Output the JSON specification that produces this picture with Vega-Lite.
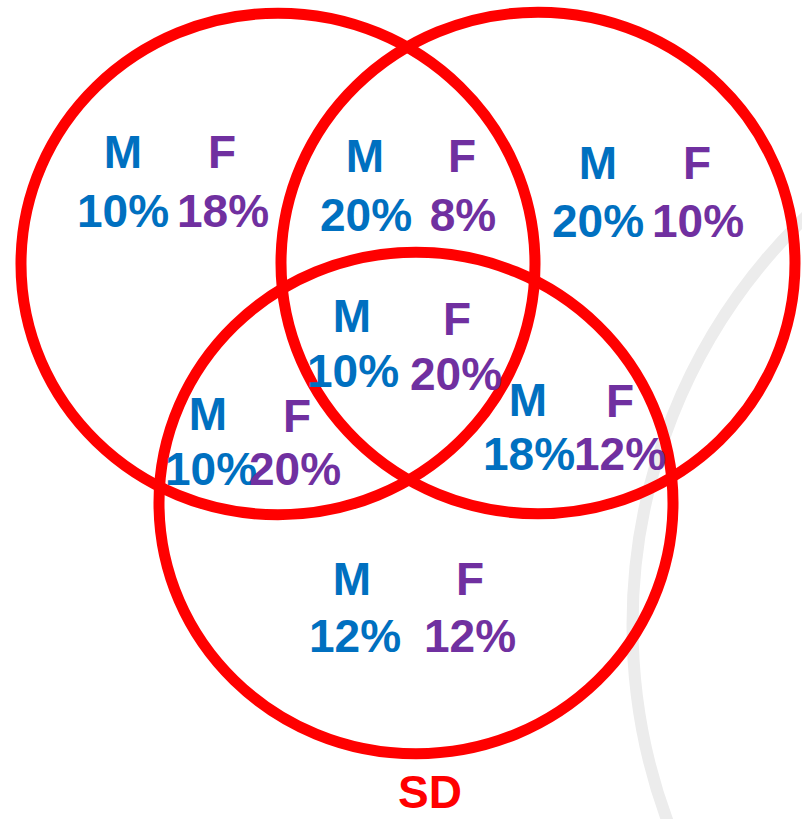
{
  "$schema": "https://vega.github.io/schema/vega-lite/v6.json",
  "width": 802,
  "height": 819,
  "padding": 0,
  "autosize": {"type": "none"},
  "background": "white",
  "config": {"view": {"stroke": null}},
  "encoding": {
    "x": {"field": "x", "type": "quantitative", "scale": {"domain": [0, 802], "nice": false, "zero": false}, "axis": null},
    "y": {"field": "y", "type": "quantitative", "scale": {"domain": [0, 819], "nice": false, "zero": false, "reverse": true}, "axis": null}
  },
  "layer": [
    {
      "data": {"values": [{"name": "watermark", "x": 1200, "y": 625}]},
      "mark": {"type": "point", "shape": "circle", "size": 1288225, "filled": false, "stroke": "#ececec", "strokeWidth": 12, "opacity": 1}
    },
    {
      "data": {"values": [
        {"set": "A", "x": 278, "y": 264},
        {"set": "B", "x": 538, "y": 263},
        {"set": "SD", "x": 416, "y": 503}
      ]},
      "mark": {"type": "point", "shape": "M1,0C1,0.5389 0.5523,0.9757 0,0.9757C-0.5523,0.9757 -1,0.5389 -1,0C-1,-0.5389 -0.5523,-0.9757 0,-0.9757C0.5523,-0.9757 1,-0.5389 1,0Z", "size": 264196, "filled": false, "stroke": "#ff0000", "strokeWidth": 11, "opacity": 1}
    },
    {
      "data": {"values": [
        {"region": "A", "group": "M", "label": "M", "x": 123, "y": 168},
        {"region": "A", "group": "F", "label": "F", "x": 222, "y": 168},
        {"region": "A", "group": "M", "label": "10%", "x": 123, "y": 227},
        {"region": "A", "group": "F", "label": "18%", "x": 223, "y": 227},
        {"region": "AB", "group": "M", "label": "M", "x": 365, "y": 172},
        {"region": "AB", "group": "F", "label": "F", "x": 462, "y": 172},
        {"region": "AB", "group": "M", "label": "20%", "x": 366, "y": 231},
        {"region": "AB", "group": "F", "label": "8%", "x": 463, "y": 231},
        {"region": "B", "group": "M", "label": "M", "x": 598, "y": 179},
        {"region": "B", "group": "F", "label": "F", "x": 697, "y": 179},
        {"region": "B", "group": "M", "label": "20%", "x": 598, "y": 237},
        {"region": "B", "group": "F", "label": "10%", "x": 698, "y": 237},
        {"region": "ABSD", "group": "M", "label": "M", "x": 352, "y": 332},
        {"region": "ABSD", "group": "F", "label": "F", "x": 457, "y": 335},
        {"region": "ABSD", "group": "M", "label": "10%", "x": 353, "y": 387},
        {"region": "ABSD", "group": "F", "label": "20%", "x": 456, "y": 390},
        {"region": "ASD", "group": "M", "label": "M", "x": 208, "y": 430},
        {"region": "ASD", "group": "F", "label": "F", "x": 297, "y": 432},
        {"region": "ASD", "group": "M", "label": "10%", "x": 211, "y": 485},
        {"region": "ASD", "group": "F", "label": "20%", "x": 295, "y": 485},
        {"region": "BSD", "group": "M", "label": "M", "x": 528, "y": 416},
        {"region": "BSD", "group": "F", "label": "F", "x": 620, "y": 417},
        {"region": "BSD", "group": "M", "label": "18%", "x": 529, "y": 470},
        {"region": "BSD", "group": "F", "label": "12%", "x": 620, "y": 470},
        {"region": "SD", "group": "M", "label": "M", "x": 352, "y": 595},
        {"region": "SD", "group": "F", "label": "F", "x": 470, "y": 595},
        {"region": "SD", "group": "M", "label": "12%", "x": 355, "y": 652},
        {"region": "SD", "group": "F", "label": "12%", "x": 470, "y": 652},
        {"region": "title", "group": "SD", "label": "SD", "x": 430, "y": 808}
      ]},
      "mark": {"type": "text", "font": "Liberation Sans", "fontWeight": "bold", "fontSize": 46, "baseline": "alphabetic", "align": "center"},
      "encoding": {
        "text": {"field": "label", "type": "nominal"},
        "color": {"field": "group", "type": "nominal", "scale": {"domain": ["M", "F", "SD"], "range": ["#0070c0", "#7030a0", "#ff0000"]}, "legend": null}
      }
    }
  ]
}
